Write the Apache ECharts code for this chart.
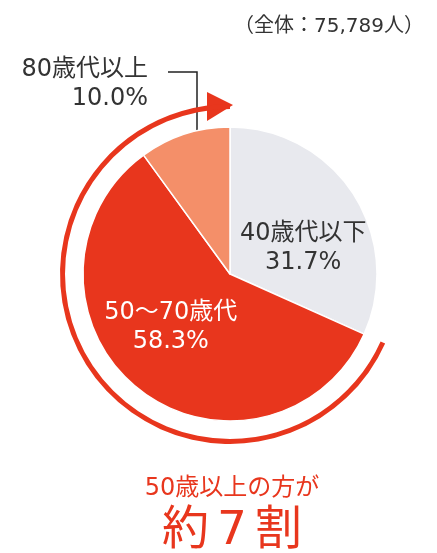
<!DOCTYPE html>
<html>
<head>
<meta charset="utf-8">
<script src="https://cdn.jsdelivr.net/npm/echarts@6/dist/echarts.min.js"></script>
<style>
  html, body { margin: 0; padding: 0; background: #fff; }
  #chart { width: 437px; height: 553px; }
</style>
</head>
<body>
<div id="chart"></div>
<script>
var categories = ['40歳代以下', '50～70歳代', '80歳代以上'];
var shares = [31.7, 58.3, 10.0];
var sliceColors = ['#e8e9ee', '#e8361d', '#f48f69'];
var totalNote = '（全体：75,789人）';
var headline = '50歳以上の方が';
var headlineBig = ['約', '7', '割'];

var RED = '#e8361d';
// wide digits from DejaVu, kana/kanji fall back to Noto CJK
var FONT = '"DejaVu Sans", "Noto Sans CJK JP", sans-serif';
var cx = 230, cy = 274;

var chart = echarts.init(document.getElementById('chart'));

// ring: under-50 part hidden, 50+ part drawn
var ringData = [
  { value: shares[0], itemStyle: { color: 'rgba(0,0,0,0)' } },
  { value: shares[1] + shares[2], itemStyle: { color: RED } }
];

var pieData = categories.map(function (c, i) {
  return { name: c, value: shares[i], itemStyle: { color: sliceColors[i] } };
});

var bigStyle = { fontFamily: FONT, fontSize: 47, fontWeight: 'normal', color: RED };

var option = {
  animation: false,
  title: [
    { text: totalNote, right: 8, top: 12,
      textStyle: { fontFamily: FONT, fontSize: 20, fontWeight: 'normal', color: '#333' } },
    { text: headline, left: 227, top: 472, textAlign: 'center',
      textStyle: { fontFamily: FONT, fontSize: 24, fontWeight: 'normal', color: RED } },
    { text: '{k|' + headlineBig[0] + '}{n|' + headlineBig[1] + '}{k|' + headlineBig[2] + '}',
      left: 227, top: 503, textAlign: 'center',
      textStyle: {
        fontWeight: 'normal',
        rich: {
          k: bigStyle,
          n: Object.assign({ padding: [0, 8] }, bigStyle)
        }
      } }
  ],
  series: [
    {
      type: 'pie',
      silent: true,
      center: [cx, cy],
      radius: [165, 170],
      startAngle: 90,
      label: { show: false },
      labelLine: { show: false },
      data: ringData
    },
    {
      type: 'pie',
      center: [cx, cy],
      radius: 147,
      startAngle: 90,
      itemStyle: { borderColor: '#fff', borderWidth: 1.5 },
      label: {
        show: true,
        position: 'inside',
        fontFamily: FONT,
        fontSize: 24,
        lineHeight: 29,
        color: '#333',
        formatter: function (p) { return p.name + '\n' + p.value.toFixed(1) + '%'; }
      },
      labelLine: { show: false },
      labelLayout: function (p) {
        if (p.dataIndex === 0) return { dx: 9, dy: 16 };
        if (p.dataIndex === 1) return { dx: -11, dy: -6 };
        return {
          x: 148, y: 84, align: 'right', verticalAlign: 'middle',
          labelLinePoints: [[197, 162], [197, 72], [168, 72]]
        };
      },
      data: [
        pieData[0],
        Object.assign({}, pieData[1], { label: { color: '#fff' } }),
        Object.assign({}, pieData[2], {
          label: { position: 'outside' },
          labelLine: { show: true, lineStyle: { color: '#222', width: 1.5 } }
        })
      ]
    }
  ],
  graphic: [
    {
      type: 'polygon',
      silent: true,
      shape: { points: [[207, 92], [233, 105], [207, 121]] },
      style: { fill: RED }
    }
  ]
};
chart.setOption(option);
</script>
</body>
</html>
